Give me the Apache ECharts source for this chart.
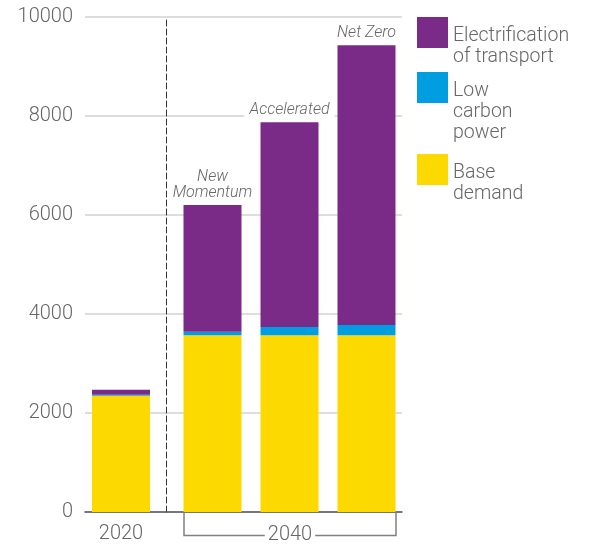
<!DOCTYPE html>
<html>
<head>
<meta charset="utf-8">
<script src="https://cdn.jsdelivr.net/npm/echarts@6/dist/echarts.min.js"></script>
<style>
html,body{margin:0;padding:0;background:#fff;}
#chart{width:601px;height:547px;}
</style>
</head>
<body>
<div id="chart"></div>
<script>
// ---- data ----
var categories = ['2020', 'New Momentum', 'Accelerated', 'Net Zero'];
var baseDemand = [2350, 3570, 3570, 3570];
var lowCarbon = [20, 70, 165, 210];
var electrification = [100, 2560, 4140, 5650];
var yTicks = [0, 2000, 4000, 6000, 8000, 10000];
var periodLabels = ['2020', '2040'];
var seriesNames = ['Electrification\nof transport', 'Low\ncarbon\npower', 'Base\ndemand'];

var COL = {elec: '#7a2b87', low: '#009ee0', base: '#fcd900'};
var FONT = 'Roboto, "Liberation Sans", sans-serif';
var TXT = '#666666';

var chart = echarts.init(document.getElementById('chart'), null, {renderer: 'canvas'});

var hist = categories.slice(0, 1);
var scen = categories.slice(1);

function mkSeries(gi, sl) {
  return [
    {name: seriesNames[2], type: 'bar', stack: 's' + gi, xAxisIndex: gi, yAxisIndex: gi, barWidth: 58,
     itemStyle: {color: COL.base}, data: baseDemand.slice.apply(baseDemand, sl)},
    {name: seriesNames[1], type: 'bar', stack: 's' + gi, xAxisIndex: gi, yAxisIndex: gi, barWidth: 58,
     itemStyle: {color: COL.low}, data: lowCarbon.slice.apply(lowCarbon, sl)},
    {name: seriesNames[0], type: 'bar', stack: 's' + gi, xAxisIndex: gi, yAxisIndex: gi, barWidth: 58,
     itemStyle: {color: COL.elec}, data: electrification.slice.apply(electrification, sl),
     label: gi === 2 ? {
       show: true, position: 'top', distance: 4,
       formatter: function (p) { return p.name.replace('New ', 'New\n'); },
       fontFamily: FONT, fontStyle: 'italic', fontWeight: 300, fontSize: 16, lineHeight: 16, color: TXT,
       backgroundColor: '#ffffff', padding: [0, 5, 0, 5]
     } : {show: false}}
  ];
}

var LH = 21;
function legendFor(name, top, lines) {
  var gap = (lines - 1) * LH + 7;
  return {
    data: [name], left: 417, top: top, padding: 0, orient: 'vertical',
    itemWidth: 31, itemHeight: 31, icon: 'rect', selectedMode: false,
    formatter: function (n) {
      return '{g|\u00a0}\n' + n.split('\n').map(function (s) { return '{t|' + s + '}'; }).join('\n');
    },
    textStyle: {fontFamily: FONT, fontSize: 19.5, fontWeight: 300, color: TXT, lineHeight: LH,
      rich: {
        g: {fontSize: 10, lineHeight: gap, height: gap},
        t: {fontFamily: FONT, fontSize: 19.5, fontWeight: 300, lineHeight: LH, color: TXT}
      }}
  };
}

var option = {
  animation: false,
  backgroundColor: '#ffffff',
  legend: [
    legendFor(seriesNames[0], -2.5, 2),
    legendFor(seriesNames[1], 31.5, 3),
    legendFor(seriesNames[2], 134.5, 2)
  ],
  grid: [
    {left: 85, right: 199, top: 17, bottom: 35},
    {left: 85, width: 72, top: 17, bottom: 35},
    {left: 174, width: 231, top: 17, bottom: 35}
  ],
  xAxis: [
    {gridIndex: 0, type: 'value', min: 0, max: 1, axisLabel: {show: false}, axisTick: {show: false},
     splitLine: {show: false}, axisLine: {show: true, lineStyle: {color: '#555555', width: 1.5}}},
    {gridIndex: 1, type: 'category', data: hist, axisLine: {show: false}, axisTick: {show: false},
     axisLabel: {fontFamily: FONT, fontSize: 20, fontWeight: 300, color: TXT, margin: 12}},
    {gridIndex: 2, type: 'category', data: scen, axisLine: {show: false}, axisTick: {show: false},
     axisLabel: {show: false}}
  ],
  yAxis: [
    {gridIndex: 0, type: 'value', min: yTicks[0], max: yTicks[yTicks.length - 1], interval: yTicks[1] - yTicks[0],
     axisLine: {show: false}, axisTick: {show: false},
     axisLabel: {fontFamily: FONT, fontSize: 20, fontWeight: 300, color: TXT, margin: 12,
       formatter: function (v) { return String(v); }},
     splitLine: {show: true, lineStyle: {color: '#d2d2d2', width: 1.5}}},
    {gridIndex: 1, type: 'value', min: 0, max: 10000, position: 'right', offset: 9,
     axisLabel: {show: false}, axisTick: {show: false}, splitLine: {show: false},
     axisLine: {show: true, lineStyle: {color: '#333333', width: 1, type: [6, 3]}}},
    {gridIndex: 2, type: 'value', min: 0, max: 10000, show: false}
  ],
  graphic: [
    {type: 'polyline', silent: true, z: 10,
     shape: {points: [[184, 513], [184, 535.5], [396, 535.5], [396, 513]]},
     style: {stroke: '#808080', lineWidth: 1.5, fill: null}},
    {type: 'text', silent: true, z: 11, x: 290, y: 535,
     style: {text: periodLabels[1], font: '300 20px ' + FONT, fill: TXT, align: 'center', verticalAlign: 'middle',
       backgroundColor: '#ffffff', padding: [0, 3, 0, 3]}}
  ],
  series: mkSeries(1, [0, 1]).concat(mkSeries(2, [1]))
};
chart.setOption(option);
</script>
</body>
</html>
